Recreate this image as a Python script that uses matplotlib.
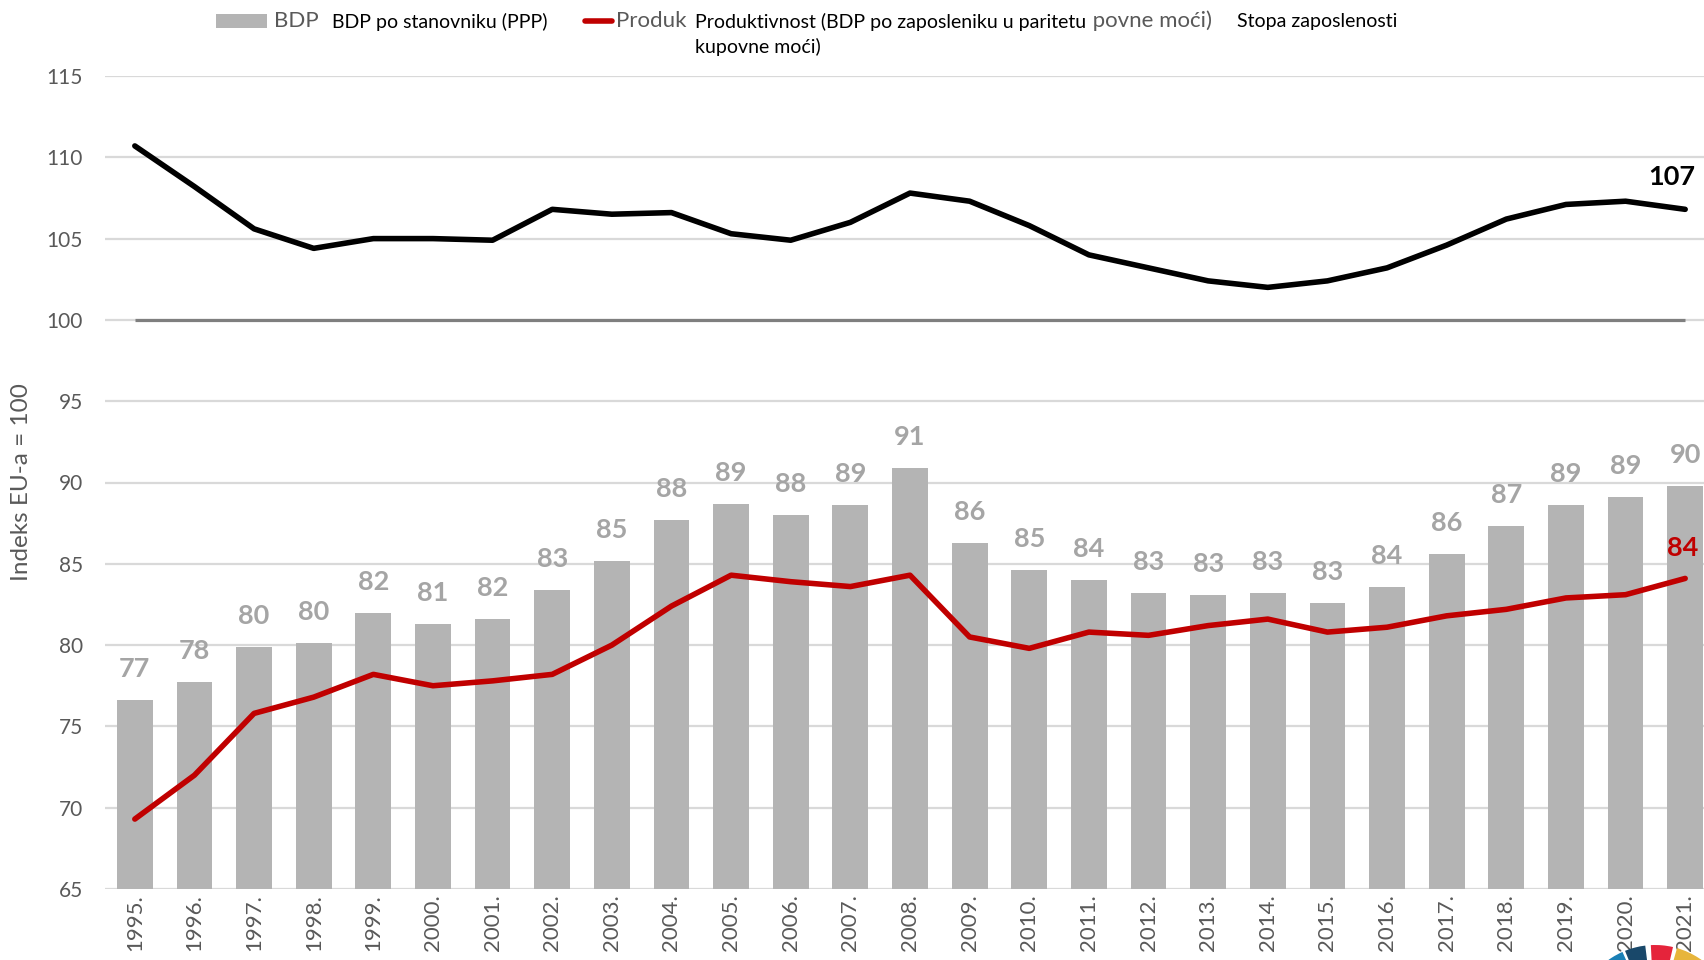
import matplotlib
matplotlib.use('Agg')
import matplotlib.pyplot as plt
from matplotlib.patches import Rectangle, Wedge
from matplotlib.lines import Line2D
from matplotlib.transforms import IdentityTransform

plt.rcParams['font.family'] = ['Lato', 'DejaVu Sans']

# ---------------- data ----------------
years = ['1995.', '1996.', '1997.', '1998.', '1999.', '2000.', '2001.', '2002.', '2003.',
         '2004.', '2005.', '2006.', '2007.', '2008.', '2009.', '2010.', '2011.', '2012.',
         '2013.', '2014.', '2015.', '2016.', '2017.', '2018.', '2019.', '2020.', '2021.']
gdp_pc = [76.6, 77.7, 79.9, 80.1, 82.0, 81.3, 81.6, 83.4, 85.2, 87.7, 88.7, 88.0, 88.6, 90.9,
          86.3, 84.6, 84.0, 83.2, 83.1, 83.2, 82.6, 83.6, 85.6, 87.3, 88.6, 89.1, 89.8]
productivity = [69.3, 72.0, 75.8, 76.8, 78.2, 77.5, 77.8, 78.2, 80.0, 82.4, 84.3, 83.9, 83.6, 84.3,
                80.5, 79.8, 80.8, 80.6, 81.2, 81.6, 80.8, 81.1, 81.8, 82.2, 82.9, 83.1, 84.1]
employment = [110.7, 108.2, 105.6, 104.4, 105.0, 105.0, 104.9, 106.8, 106.5, 106.6, 105.3, 104.9,
              106.0, 107.8, 107.3, 105.8, 104.0, 103.2, 102.4, 102.0, 102.4, 103.2, 104.6, 106.2,
              107.1, 107.3, 106.8]
eu_level = [100] * len(years)
y_ticks = [65, 70, 75, 80, 85, 90, 95, 100, 105, 110, 115]

leg_gdp = 'BDP po stanovniku (PPP)'
leg_prod = 'Produktivnost (BDP po zaposleniku u paritetu kupovne moći)'
leg_prod_line1 = 'Produktivnost (BDP po zaposleniku u paritetu'
leg_prod_line2 = 'kupovne moći)'
leg_emp = 'Stopa zaposlenosti'
y_title = 'Indeks EU-a = 100'

# ---------------- style ----------------
W, H = 1704, 960
BAR = '#b4b4b4'
LBL = '#a5a5a5'
RED = '#c00000'
TXT = '#595959'
GRID = '#d9d9d9'

fig = plt.figure(figsize=(W / 100, H / 100), dpi=100)
fig.patch.set_facecolor('white')

def fx(x):
    return x / W

def fy(y):
    return 1 - y / H

ax = fig.add_axes([fx(105), 71 / H, 1610 / W, 813 / H])
x = list(range(len(years)))

ax.bar(x, gdp_pc, width=0.6, color=BAR, zorder=2)
ax.plot(x, eu_level, color='#7f7f7f', lw=2.3, zorder=3, solid_capstyle='butt')
ax.plot(x, productivity, color=RED, lw=4, zorder=4, solid_capstyle='round', solid_joinstyle='round')
ax.plot(x, employment, color='black', lw=4, zorder=4, solid_capstyle='round', solid_joinstyle='round')

for xi, v in zip(x, gdp_pc):
    ax.annotate(f'{round(v)}', (xi, v), xytext=(0, 31), textcoords='offset pixels',
                ha='center', va='center', color=LBL, fontsize=19.5, fontweight='bold', zorder=5)

ax.annotate(f'{round(productivity[-1])}', (x[-1], productivity[-1]), xytext=(-2, 30),
            textcoords='offset pixels', ha='center', va='center', color=RED,
            fontsize=19.5, fontweight='bold', zorder=5)
ax.annotate(f'{round(employment[-1])}', (x[-1], employment[-1]), xytext=(-13, 32),
            textcoords='offset pixels', ha='center', va='center', color='black',
            fontsize=19.5, fontweight='bold', zorder=5)

ax.set_xlim(-0.5, len(years) - 0.5)
ax.set_ylim(65, 115)
ax.set_yticks(y_ticks)
ax.set_yticklabels([str(t) for t in y_ticks])
ax.set_xticks(x)
ax.set_xticklabels(years, rotation=90, va='top', ha='center')
ax.tick_params(axis='y', length=0, pad=16, labelsize=15, labelcolor=TXT)
ax.tick_params(axis='x', length=0, pad=3.5, labelsize=16, labelcolor=TXT)
ax.grid(axis='y', color=GRID, lw=1.6, zorder=0)
ax.set_axisbelow(True)
for s in ax.spines.values():
    s.set_visible(False)

fig.text(fx(22), fy(482), y_title, rotation=90, ha='center', va='center',
         fontsize=17.5, color=TXT)

# ---------------- legend (overlapping text boxes as in the original) ----------------
fig.add_artist(Rectangle((fx(216), fy(28)), fx(267) - fx(216), fy(14) - fy(28),
                         transform=fig.transFigure, color=BAR, lw=0))
fig.text(fx(274), fy(21), leg_gdp, ha='left', va='center', fontsize=16, color=TXT)
fig.add_artist(Line2D([fx(585), fx(612)], [fy(21), fy(21)], transform=fig.transFigure,
                      color=RED, lw=4, solid_capstyle='round'))
fig.text(fx(616), fy(21), leg_prod, ha='left', va='center', fontsize=16, color=TXT)

box = dict(boxstyle='square,pad=0.25', facecolor='white', edgecolor='none')
box_wide = dict(boxstyle='square,pad=0.4', facecolor='white', edgecolor='none')
fig.text(fx(332), fy(22), leg_gdp, ha='left', va='center', fontsize=14, color='black', bbox=box_wide)
fig.text(fx(695), fy(22), leg_prod_line1, ha='left', va='center', fontsize=14, color='black',
         bbox=box_wide)
fig.text(fx(695), fy(47), leg_prod_line2, ha='left', va='center', fontsize=14, color='black')
fig.text(fx(1237), fy(22), leg_emp, ha='left', va='center', fontsize=14, color='black', bbox=box)

# ---------------- partial logo at bottom right ----------------
cx, cy = 1655, -65
segments = [(114, 131, '#1a80b6'), (97, 112, '#19486a'), (77, 93, '#e5243b'), (40, 74, '#e7b53b')]
for a0, a1, c in segments:
    fig.add_artist(Wedge((cx, cy), 80, a0, a1, width=15, transform=IdentityTransform(),
                         color=c, lw=0, zorder=0.5))

fig.savefig('out.png', dpi=100)
